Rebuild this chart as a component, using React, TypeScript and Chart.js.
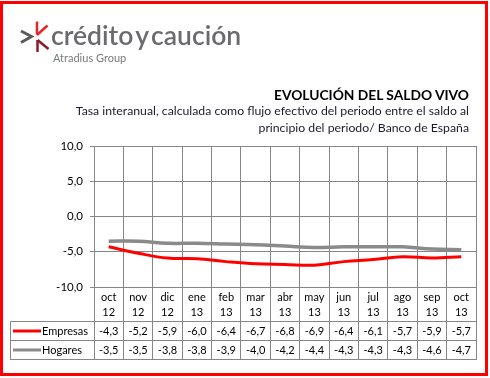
import React, { useEffect, useRef } from "react";
import { Chart, registerables } from "chart.js";

Chart.register(...registerables);

const categories: string[][] = [
  ["oct", "12"], ["nov", "12"], ["dic", "12"], ["ene", "13"], ["feb", "13"],
  ["mar", "13"], ["abr", "13"], ["may", "13"], ["jun", "13"], ["jul", "13"],
  ["ago", "13"], ["sep", "13"], ["oct", "13"],
];
const empresas = [-4.3, -5.2, -5.9, -6.0, -6.4, -6.7, -6.8, -6.9, -6.4, -6.1, -5.7, -5.9, -5.7];
const hogares = [-3.5, -3.5, -3.8, -3.8, -3.9, -4.0, -4.2, -4.4, -4.3, -4.3, -4.3, -4.6, -4.7];
const seriesNames = ["Empresas", "Hogares"];
const seriesColors = ["#ff0000", "#8a8a8a"];
const yMin = -10;
const yMax = 10;
const yStep = 5;

const FONT = "Lato, 'Open Sans', sans-serif";
const GRID = "#868686";

const fmt = (v: number) => v.toFixed(1).replace(".", ",");
const align = (p: number) => Math.round(p - 0.5) + 0.5;

const tablePlugin = {
  id: "dataTable",
  afterDraw(chart: any) {
    const { ctx, chartArea, scales } = chart;
    const x = scales.x;
    const n = categories.length;
    const rowH = 19;
    const r0 = x.bottom;
    const r1 = r0 + rowH;
    const r2 = r1 + rowH;
    const legendLeft = 10.5;

    const bounds: number[] = [];
    for (let i = 0; i <= n; i++) {
      if (i === 0) bounds.push(chartArea.left);
      else if (i === n) bounds.push(chartArea.right);
      else bounds.push((x.getPixelForValue(i - 1) + x.getPixelForValue(i)) / 2);
    }

    ctx.save();
    ctx.strokeStyle = GRID;
    ctx.lineWidth = 1;
    ctx.beginPath();
    bounds.forEach((b) => {
      const px = align(b);
      ctx.moveTo(px, chartArea.bottom);
      ctx.lineTo(px, align(r2) + 0.5);
    });
    [r0, r1, r2].forEach((r) => {
      const py = align(r);
      ctx.moveTo(legendLeft, py);
      ctx.lineTo(align(chartArea.right) + 0.5, py);
    });
    ctx.moveTo(legendLeft, align(r0));
    ctx.lineTo(legendLeft, align(r2) + 0.5);
    ctx.stroke();

    const rows = [empresas, hogares];
    ctx.font = `11px ${FONT}`;
    ctx.textBaseline = "middle";
    rows.forEach((vals, ri) => {
      const cy = (ri === 0 ? (r0 + r1) / 2 : (r1 + r2) / 2) + 0.5;
      ctx.strokeStyle = seriesColors[ri];
      ctx.lineWidth = 3;
      ctx.beginPath();
      ctx.moveTo(13, Math.round(cy));
      ctx.lineTo(41, Math.round(cy));
      ctx.stroke();
      ctx.fillStyle = "#000";
      ctx.textAlign = "left";
      ctx.fillText(seriesNames[ri], 42, cy);
      ctx.textAlign = "center";
      vals.forEach((v, i) => {
        ctx.fillText(fmt(v), x.getPixelForValue(i), cy);
      });
    });

    // outer red frame
    ctx.strokeStyle = "#ff0000";
    ctx.lineWidth = 3;
    ctx.strokeRect(1.5, 2.5, 485, 372);
    ctx.restore();
  },
};

function Logo() {
  return (
    <>
      <svg
        width="60"
        height="60"
        style={{ position: "absolute", left: 0, top: 0 }}
        viewBox="0 0 60 60"
      >
        <polyline points="21,31 31.5,36.5 21,42.5" fill="none" stroke="#5b5b5b" strokeWidth="3" />
        <line x1="37" y1="21.5" x2="37" y2="34.5" stroke="#e8232a" strokeWidth="2.5" />
        <line x1="47.5" y1="25.5" x2="37" y2="35" stroke="#e8232a" strokeWidth="2.5" />
        <line x1="37.5" y1="40" x2="37.5" y2="52" stroke="#8c1a2a" strokeWidth="2.5" />
        <line x1="37.5" y1="40" x2="48.5" y2="49" stroke="#8c1a2a" strokeWidth="2.5" />
      </svg>
      <div
        style={{
          position: "absolute",
          left: 51,
          top: 22,
          font: `600 26.5px/26px ${FONT}`,
          color: "#6b6b6e",
          letterSpacing: "0px",
          wordSpacing: "-4px",
          whiteSpace: "nowrap",
        }}
      >
        crédito y caución
      </div>
      <div
        style={{
          position: "absolute",
          left: 53,
          top: 52,
          font: `11px/11px ${FONT}`,
          color: "#7a7a7d",
          whiteSpace: "nowrap",
        }}
      >
        Atradius Group
      </div>
    </>
  );
}

export default function App() {
  const canvasRef = useRef<HTMLCanvasElement | null>(null);

  useEffect(() => {
    if (!canvasRef.current) return;
    const chart = new Chart(canvasRef.current, {
      type: "line",
      data: {
        labels: categories,
        datasets: [
          {
            label: seriesNames[0],
            data: empresas,
            borderColor: seriesColors[0],
            backgroundColor: seriesColors[0],
            borderWidth: 3,
            pointRadius: 0,
            tension: 0.4,
            fill: false,
          },
          {
            label: seriesNames[1],
            data: hogares,
            borderColor: seriesColors[1],
            backgroundColor: seriesColors[1],
            borderWidth: 3.5,
            pointRadius: 0,
            tension: 0.4,
            fill: false,
          },
        ],
      },
      options: {
        responsive: false,
        animation: false,
        color: "#000",
        layout: { padding: { left: 0, right: 14, top: 146, bottom: 57 } },
        plugins: {
          legend: { display: false },
          tooltip: { enabled: false },
          title: { display: false },
        },
        scales: {
          x: {
            type: "category",
            offset: true,
            grid: { offset: true, color: GRID, lineWidth: 1, drawTicks: false },
            border: { display: true, color: GRID },
            ticks: {
              color: "#000",
              font: { family: FONT, size: 11, lineHeight: 1.36 },
              padding: 3,
              maxRotation: 0,
              autoSkip: false,
            },
            afterFit: (s: any) => {
              s.height = 34;
            },
          },
          y: {
            min: yMin,
            max: yMax,
            grid: { color: GRID, lineWidth: 1, tickLength: 4, drawTicks: true },
            border: { display: true, color: GRID },
            ticks: {
              stepSize: yStep,
              color: "#000",
              padding: 7,
              font: { family: FONT, size: 11.5 },
              callback: (v: any) => fmt(Number(v)),
            },
            afterFit: (s: any) => {
              s.width = 94;
            },
          },
        },
      },
      plugins: [tablePlugin],
    } as any);
    return () => chart.destroy();
  }, []);

  return (
    <div
      style={{
        position: "absolute",
        left: 0,
        top: 0,
        width: 490,
        height: 378,
        background: "#fff",
        overflow: "hidden",
      }}
    >
      <canvas
        ref={canvasRef}
        width={490}
        height={378}
        style={{ position: "absolute", left: 0, top: 0, width: 490, height: 378 }}
      />
      <Logo />
      <div
        style={{
          position: "absolute",
          right: 21,
          top: 88,
          font: `bold 13.8px/14px ${FONT}`,
          color: "#000",
          whiteSpace: "nowrap",
          textAlign: "right",
        }}
      >
        EVOLUCIÓN DEL SALDO VIVO
      </div>
      <div
        style={{
          position: "absolute",
          right: 21,
          top: 101.5,
          font: `12.25px/17.5px ${FONT}`,
          color: "#1a1a2a",
          whiteSpace: "nowrap",
          textAlign: "right",
        }}
      >
        <div>Tasa interanual, calculada como flujo efectivo del periodo entre el saldo al</div>
        <div>principio del periodo/ Banco de España</div>
      </div>
    </div>
  );
}
